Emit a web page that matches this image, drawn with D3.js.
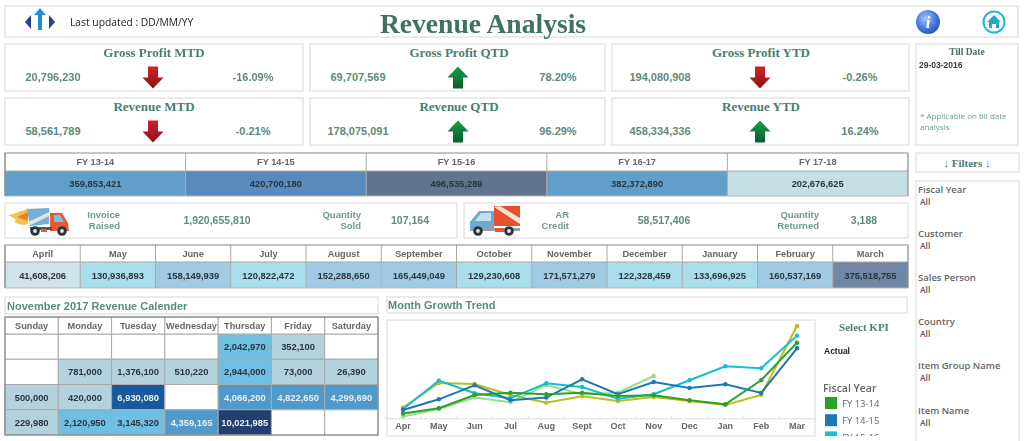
<!DOCTYPE html>
<html>
<head>
<meta charset="utf-8">
<title>Revenue Analysis</title>
<script src="https://cdn.jsdelivr.net/npm/d3@7"></script>
<style>
body{margin:0;background:#fff;overflow:hidden}
svg{display:block;filter:blur(0.4px)}
text{font-family:"Liberation Sans",Arial,sans-serif}
.serif{font-family:"Liberation Serif",serif;font-weight:bold}
.open{font-family:"Open Sans",sans-serif}
</style>
</head>
<body>
<svg id="chart" width="1024" height="441"></svg>
<script>
// kpi 데이터
var kpiTitles = ["Gross Profit MTD","Gross Profit QTD","Gross Profit YTD","Revenue MTD","Revenue QTD","Revenue YTD"];
var kpiValues = ["20,796,230","69,707,569","194,080,908","58,561,789","178,075,091","458,334,336"];
var kpiChanges = [-16.09,78.20,-0.26,-0.21,96.29,16.24];

// 회계연도 합계
var fyLabels = ["FY 13-14","FY 14-15","FY 15-16","FY 16-17","FY 17-18"];
var fyValues = [359853421,420700180,496535289,382372890,202676625];

// 월별 합계
var monthLabels = ["April","May","June","July","August","September","October","November","December","January","February","March"];
var monthValues = [41608206,130936893,158149939,120822472,152288650,165449049,129230608,171571279,122328459,133696925,160537169,375518755];

// 달력
var weekDays = ["Sunday","Monday","Tuesday","Wednesday","Thursday","Friday","Saturday"];
var calendarWeek1 = [null,null,null,null,2042970,352100,null];
var calendarWeek2 = [null,781000,1376100,510220,2944000,73000,26390];
var calendarWeek3 = [500000,420000,6930080,null,4066200,4822650,4299690];
var calendarWeek4 = [229980,2120950,3145320,4359165,10021985,null,null];

// 추세선 (단위 백만, 그림에서 읽은 값)
var trendMonths = ["Apr","May","Jun","Jul","Aug","Sept","Oct","Nov","Dec","Jan","Feb","Mar"];
var trendFY1314 = [5.5,11.7,27.3,30.0,28.1,30.0,26.1,26.9,21.1,16.4,44.5,88.5];
var trendFY1415 = [9.8,22.2,38.6,21.1,24.2,45.6,28.1,42.5,35.5,39.8,29.6,81.9];
var trendFY1516 = [10.9,44.1,29.3,23.4,41.0,36.7,23.0,28.1,44.5,60.8,58.5,96.7];
var trendFY1617 = [12.5,41.3,40.2,27.3,18.3,25.7,20.3,25.0,20.3,15.6,27.3,108.0];
var trendFY1718 = [2.0,10.9,24.2,18.7,39.0,28.1,30.0,49.5];

var filterNames = ["Fiscal Year","Customer","Sales Person","Country","Item Group Name","Item Name"];

var svg = d3.select("#chart");
var fmt = d3.format(",");
var GREEN_TXT = "#5f8a7c";
var TITLE_TXT = "#4c7d6f";

// d3-selection-multi 없이 attrs 쓰기
d3.selection.prototype.attrs2 = function(o){
    for(var k in o){ this.attr(k,o[k]); }
    return this;
};
function panel(x, y, w, h){
    svg.append("rect").attrs2({x:x,y:y,width:w,height:h,fill:"#fff",stroke:"#e6e6e6","stroke-width":1.6});
}
function label(g, x, y, s, size, color, anchor, cls, weight){
    return g.append("text").attrs2({x:x,y:y,"font-size":size,fill:color,"text-anchor":anchor||"start","dominant-baseline":"central","font-weight":weight||"normal","class":cls||null}).text(s);
}

var defs = svg.append("defs");
function gradient(id, c1, c2){
    var g = defs.append("linearGradient").attrs2({id:id,x1:0,y1:0,x2:0,y2:1});
    g.append("stop").attrs2({offset:"0%","stop-color":c1});
    g.append("stop").attrs2({offset:"100%","stop-color":c2});
}
gradient("upArrow","#12a14a","#0a5c2c");
gradient("downArrow","#d81f26","#86121a");
var rg = defs.append("radialGradient").attrs2({id:"infoBall",cx:"40%",cy:"35%",r:"70%"});
rg.append("stop").attrs2({offset:"0%","stop-color":"#a9c4f5"});
rg.append("stop").attrs2({offset:"55%","stop-color":"#4d80e0"});
rg.append("stop").attrs2({offset:"100%","stop-color":"#2a4fb5"});
// 범례 아래쪽은 원본처럼 잘림
defs.append("clipPath").attr("id","legendClip").append("rect").attrs2({x:818,y:380,width:95,height:56});

// 상단 제목
panel(5,6,1013,31);
label(svg,70,22,"Last updated : DD/MM/YY",10.3,"#222","start","open");
label(svg,483,23,"Revenue Analysis",27.6,"#3f7263","middle","serif");
svg.append("path").attr("d","M31 15 L25 22 L31 29 Z M49 15 L55 22 L49 29 Z").attr("fill","#2c3f90");
svg.append("path").attr("d","M40 8 L46 15 L42 15 L42 30 L38 30 L38 15 L34 15 Z").attr("fill","#1f8fd0");
svg.append("circle").attrs2({cx:928,cy:22,r:12,fill:"url(#infoBall)"});
label(svg,928,22,"i",17,"#fff","middle","serif").attr("font-style","italic");
svg.append("circle").attrs2({cx:994,cy:22,r:10.5,fill:"#fff",stroke:"#27b5dd","stroke-width":2});
svg.append("path").attr("d","M994 15 L1001 22 L999 22 L999 28 L996 28 L996 24 L992 24 L992 28 L989 28 L989 22 L987 22 Z").attr("fill","#27a5cf");

// kpi 박스
var kpiX = [5,310,612];
var kpiW = [298,295,297];
var kpiY = [44,98];
kpiTitles.forEach(function(t,i){
    var col = i%3, row = Math.floor(i/3);
    var x0 = kpiX[col], y0 = kpiY[row];
    panel(x0,y0,kpiW[col],47);
    label(svg,x0+149,y0+8,t,13,TITLE_TXT,"middle","serif");
    label(svg,x0+48,y0+33,kpiValues[i],11,GREEN_TXT,"middle",null,"bold");
    label(svg,x0+248,y0+33,kpiChanges[i].toFixed(2)+"%",11,GREEN_TXT,"middle",null,"bold");
    var up = kpiChanges[i] > 0;
    var a = svg.append("g").attr("transform","translate("+(x0+148)+","+(y0+33.5)+")");
    a.append("path")
     .attr("d", up ? "M0 -11 L10.5 0 L5 0 L5 11 L-5 11 L-5 0 L-10.5 0 Z" : "M0 11 L10.5 0 L5 0 L5 -11 L-5 -11 L-5 0 L-10.5 0 Z")
     .attr("fill", up ? "url(#upArrow)" : "url(#downArrow)");
});

// till date
panel(916,44,102,101);
label(svg,967,52,"Till Date",9.5,"#4a6f62","middle","serif");
label(svg,919,65,"29-03-2016",8.5,"#3b3b3b","start",null,"bold");
label(svg,920,115,"* Applicable on till date",8,"#6f9a8c","start","open");
label(svg,920,126,"analysis",8,"#6f9a8c","start","open");

// 헤더 + 값 한줄 표
function makeTable(labels, values, x0, x1, y0, yMid, y1, color){
    var x = d3.scaleBand().domain(labels).range([x0,x1]);
    var g = svg.append("g");
    labels.forEach(function(l,i){
        g.append("rect").attrs2({x:x(l),y:yMid,width:x.bandwidth(),height:y1-yMid,fill:color(values[i])});
        g.append("line").attrs2({x1:x(l),x2:x(l),y1:y0,y2:y1,stroke:"#aaa","stroke-width":1});
        label(g,x(l)+x.bandwidth()/2,(y0+yMid)/2,l,9.2,"#666","middle",null,"bold");
        label(g,x(l)+x.bandwidth()/2,(yMid+y1)/2,fmt(values[i]),9.4,"#2b353e","middle",null,"bold");
    });
    g.append("line").attrs2({x1:x0,x2:x1,y1:yMid,y2:yMid,stroke:"#a8a8a8","stroke-width":1});
    g.append("path").attr("d","M"+x0+" "+y1+" L"+x0+" "+y0+" L"+x1+" "+y0+" L"+x1+" "+y1).attrs2({fill:"none",stroke:"#8a8a8a","stroke-width":1.2});
    g.append("line").attrs2({x1:x0,x2:x1,y1:y1,y2:y1,stroke:"#b5b5b5","stroke-width":1.2});
}
var fyColor = d3.scaleThreshold().domain([300e6,400e6,450e6]).range(["#c6dfe4","#619fc9","#5a8abb","#61738f"]);
makeTable(fyLabels,fyValues,5,908,153,171,196,fyColor);
var monthColor = d3.scaleThreshold().domain([100e6,140e6,300e6]).range(["#cfe3e8","#a9dcec","#a0cae4","#7086a4"]);
makeTable(monthLabels,monthValues,5,908,245,262,288,monthColor);

// 트럭 줄
panel(5,203,452,35);
panel(464,203,444,35);
function twoLines(x, a, b){
    label(svg,x,214,a,9.5,"#6f9a87","end",null,"bold");
    label(svg,x,225,b,9.5,"#6f9a87","end",null,"bold");
}
twoLines(120,"Invoice","Raised");
label(svg,217,220,"1,920,655,810",10.5,GREEN_TXT,"middle",null,"bold");
twoLines(361,"Quantity","Sold");
label(svg,410,220,"107,164",10.5,GREEN_TXT,"middle",null,"bold");
twoLines(569,"AR","Credit");
label(svg,664,220,"58,517,406",10.5,GREEN_TXT,"middle",null,"bold");
twoLines(819,"Quantity","Returned");
label(svg,864,220,"3,188",10.5,GREEN_TXT,"middle",null,"bold");

function wheel(g, cx, cy){
    g.append("circle").attrs2({cx:cx,cy:cy,r:4.8,fill:"#2b3440"});
    g.append("circle").attrs2({cx:cx,cy:cy,r:1.9,fill:"#e8e8e8"});
}
// 왼쪽 트럭
var t1 = svg.append("g");
t1.append("path").attr("d","M8 215 Q16 214 20 211 Q22 212 28 208 L28 224 Q20 226 14 222 Q19 220 8 215 Z").attr("fill","#f6c244");
t1.append("path").attr("d","M17 217 L28 212 L28 221 Z").attr("fill","#ef7f2e");
t1.append("path").attr("d","M27 209 L49 208 L49 224 L30 226 Z").attr("fill","#6fb1d8");
t1.append("path").attr("d","M28 222 L49 212 L49 216 L31 225 Z").attr("fill","#e6e3cf");
t1.append("path").attr("d","M50 213 L62 213 L68 223 L69 231 L50 231 Z").attr("fill","#e8583a");
t1.append("path").attr("d","M54 215 L60 215 L64 222 L54 222 Z").attr("fill","#7cc0dc");
t1.append("rect").attrs2({x:30,y:227,width:22,height:3,fill:"#555"});
t1.append("rect").attrs2({x:41,y:229,width:6,height:3,fill:"#e8583a"});
wheel(t1,35,231);
wheel(t1,62,231);
// 오른쪽 트럭
var t2 = svg.append("g");
t2.append("path").attr("d","M494 206 L520 206 L520 226 L494 226 Z").attr("fill","#e8502f");
t2.append("path").attr("d","M494 207 L500 206 L520 218 L520 224 Z").attr("fill","#eee3cc");
t2.append("path").attr("d","M479 211 L494 211 L494 230 L470 230 L470 222 Z").attr("fill","#6fa9d2");
t2.append("path").attr("d","M481 213 L491 213 L491 221 L475 221 Z").attr("fill","#bfe3f2");
t2.append("rect").attrs2({x:470,y:228,width:50,height:3,fill:"#9aa0a4"});
t2.append("rect").attrs2({x:495,y:228,width:9,height:4,fill:"#e8502f"});
wheel(t2,478,231);
wheel(t2,509,231);

// 달력
panel(5,297,373,17);
label(svg,7,305.5,"November 2017 Revenue Calender",11,"#5c8a80","start",null,"bold");
var calX = d3.scaleBand().domain(weekDays).range([5,378]);
var calRows = ["w1","w2","w3","w4"];
var calY = d3.scaleBand().domain(calRows).range([334,435]);
var calColor = d3.scaleThreshold().domain([1500000,4000000,6000000,8000000]).range(["#b3d3dc","#6fbfe2","#4f99cb","#185a9d","#233f6d"]);
var cal = svg.append("g");
[calendarWeek1,calendarWeek2,calendarWeek3,calendarWeek4].forEach(function(week,r){
    week.forEach(function(v,i){
        var d = weekDays[i];
        cal.append("rect").attrs2({x:calX(d),y:calY(calRows[r]),width:calX.bandwidth(),height:calY.bandwidth(),
            fill:v===null?"#fff":calColor(v),stroke:"#aaa","stroke-width":1});
        if(v!==null){
            label(cal,calX(d)+calX.bandwidth()/2,calY(calRows[r])+calY.bandwidth()/2,fmt(v),9.4,v>=4000000?"#e6f0f6":"#2b353e","middle",null,"bold");
        }
    });
});
weekDays.forEach(function(d){
    cal.append("rect").attrs2({x:calX(d),y:317,width:calX.bandwidth(),height:17,fill:"#fff",stroke:"#aaa","stroke-width":1});
    label(cal,calX(d)+calX.bandwidth()/2,325.5,d,9.2,"#666","middle",null,"bold");
});
cal.append("rect").attrs2({x:5,y:317,width:373,height:118,fill:"none",stroke:"#8a8a8a","stroke-width":1.2});

// 추세 그래프
panel(387,297,520,16);
label(svg,388,305,"Month Growth Trend",11,"#5c8a80","start",null,"bold");
panel(387,320,428,116);

var trendX = d3.scaleBand().domain(trendMonths).range([385.1,814.9]);
var trendY = d3.scaleLinear().domain([0,113]).range([418.3,321.7]);
var trendSeries = [
    {values:trendFY1718,color:"#98df8a"},
    {values:trendFY1617,color:"#bcbd22"},
    {values:trendFY1516,color:"#17becf"},
    {values:trendFY1415,color:"#1f77b4"},
    {values:trendFY1314,color:"#2ca02c"}
];
var line = d3.line()
    .x(function(d,i){ return trendX(trendMonths[i])+trendX.bandwidth()/2; })
    .y(function(d){ return trendY(d); });
var plot = svg.append("g");
trendSeries.forEach(function(s){
    plot.append("path").attrs2({d:line(s.values),fill:"none",stroke:s.color,"stroke-width":2});
    plot.selectAll(null).data(s.values).enter().append("circle")
        .attr("cx",function(d,i){ return trendX(trendMonths[i])+trendX.bandwidth()/2; })
        .attr("cy",function(d){ return trendY(d); })
        .attr("r",2.2)
        .attr("fill",s.color);
});
var axis = svg.append("g").attr("transform","translate(0,418.3)")
    .call(d3.axisBottom(trendX).tickSize(0).tickPadding(4));
axis.select(".domain").attrs2({stroke:"#ddd","stroke-width":1});
axis.selectAll("text").attrs2({"font-size":9,"font-weight":"bold",fill:"#666","font-family":"Liberation Sans"});
trendMonths.forEach(function(m){
    axis.append("line").attrs2({x1:trendX(m),x2:trendX(m),y1:0,y2:-2,stroke:"#ddd"});
});

// 범례
label(svg,864,327,"Select KPI",11,TITLE_TXT,"middle","serif");
label(svg,824,351,"Actual",8.5,"#222","start",null,"bold");
label(svg,823,388,"Fiscal Year",10.5,"#666","start","open","600");
var legendColors = ["#2ca02c","#1f77b4","#17becf"];
var legend = svg.append("g").attr("clip-path","url(#legendClip)");
legendColors.forEach(function(c,i){
    var y = 397+i*17.2;
    legend.append("rect").attrs2({x:825,y:y,width:12,height:12,fill:c});
    label(legend,842,y+6,fyLabels[i],9.5,"#666","start","open");
});

// 필터
panel(916,153,103,19);
label(svg,967,162.5,"↓ Filters ↓",11,TITLE_TXT,"middle","serif");
panel(916,181,103,262);
filterNames.forEach(function(f,i){
    var y = 189+i*44.2;
    label(svg,918,y,f,9.5,"#666","start","open","600");
    label(svg,920,y+12,"All",8.5,"#555","start","open","600");
});
</script>
</body>
</html>
